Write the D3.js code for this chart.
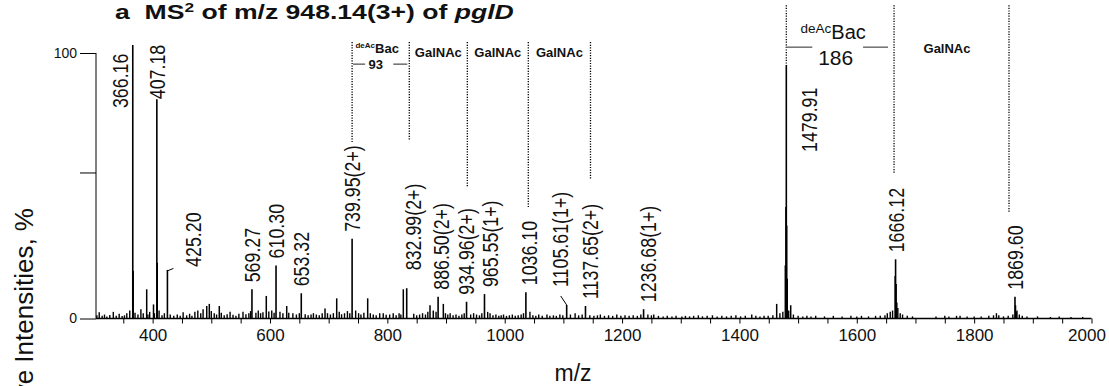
<!DOCTYPE html>
<html>
<head>
<meta charset="utf-8">
<script src="https://cdn.jsdelivr.net/npm/d3@7"></script>
<style>
  body { margin: 0; background: #fff; }
  svg { display: block; font-family: "Liberation Sans", Arial, Helvetica, sans-serif; }
</style>
</head>
<body>
<div id="chart"></div>
<script>
// labelled peaks (m/z, relative intensity %)
const peakMz = [366.16, 407.18, 425.20, 569.27, 610.30, 653.32, 739.95, 832.99, 886.50, 934.96,
  965.55, 1036.10, 1105.61, 1137.65, 1236.68, 1479.91, 1666.12, 1869.60];
const peakInt = [103, 82.6, 18.3, 11, 20, 9.5, 30, 11.4, 8.2, 6.3,
  9.2, 9.9, 5.1, 4.7, 3.5, 95.5, 22.3, 8.2];
const peakLabels = ["366.16", "407.18", "425.20", "569.27", "610.30", "653.32", "739.95(2+)",
  "832.99(2+)", "886.50(2+)", "934.96(2+)", "965.55(1+)", "1036.10", "1105.61(1+)",
  "1137.65(2+)", "1236.68(1+)", "1479.91", "1666.12", "1869.60"];

// other visible peaks, no label
const minorPeaks = [
  [366.9, 18], [389.9, 11], [401.5, 5.3], [407.9, 21], [492.2, 4.7], [496.6, 5.5], [513.6, 4.7],
  [593.7, 8.5], [628.5, 4.7], [693.8, 3.8], [713.7, 7.6], [766.5, 7.6], [827.2, 11],
  [872.7, 5], [878.3, 3], [895.4, 5.5], [1463.5, 5.5], [1478.2, 20], [1479.2, 42],
  [1480.6, 35], [1481.5, 15], [1487.4, 5], [1665.4, 16], [1667.1, 13], [1668.2, 6],
  [1870.5, 5], [1871.6, 2.5]
];

// baseline noise
const noisePeaks = [
  [305, 1.2], [309, 2.4], [314, 1.0], [318, 1.5], [322, 0.8], [327, 1.3], [333, 2.5], [338, 1.0],
  [343, 1.8], [348, 0.9], [352, 1.2], [356, 2.0], [361, 3.0], [370, 2.2], [375, 1.5], [380, 3.5],
  [384, 2.0], [392, 1.5], [395, 2.5], [403, 2.0], [411, 3.0], [416, 1.2], [420, 2.0], [430, 1.5],
  [436, 1.0], [442, 1.5], [447, 1.0], [452, 2.4], [458, 1.2], [463, 1.8], [467, 1.0], [472, 2.5],
  [477, 3.0], [482, 2.0], [486, 3.5], [500, 2.8], [505, 2.0], [509, 1.5], [517, 2.2], [522, 1.2],
  [527, 1.6], [532, 2.5], [537, 1.4], [542, 1.0], [547, 1.8], [554, 2.5], [559, 1.6], [564, 2.0],
  [567, 2.8], [576, 2.2], [580, 3.0], [584, 2.0], [588, 2.4], [598, 2.6], [603, 3.0], [607, 2.2],
  [617, 2.5], [622, 2.0], [632, 2.2], [639, 2.0], [645, 1.5], [650, 2.0], [660, 1.6], [665, 1.2],
  [670, 1.5], [674, 2.0], [679, 1.5], [684, 1.2], [689, 2.0], [698, 2.0], [703, 1.5], [708, 2.0],
  [718, 2.5], [722, 1.6], [727, 2.0], [732, 2.8], [736, 2.0], [746, 3.0], [751, 2.0], [755, 1.5],
  [760, 2.2], [771, 2.0], [776, 1.5], [781, 1.2], [787, 2.0], [793, 2.0], [798, 1.4], [804, 1.5],
  [810, 2.0], [815, 1.2], [820, 2.0], [823, 1.5], [845, 1.8], [850, 1.2], [855, 1.5], [860, 2.0],
  [865, 1.5], [869, 2.5], [883, 2.5], [899, 2.0], [903, 1.5], [907, 2.0], [912, 1.2], [917, 1.5],
  [922, 1.0], [927, 1.5], [931, 2.0], [942, 1.5], [947, 2.0], [952, 1.5], [957, 1.2], [961, 2.0],
  [971, 2.5], [975, 2.0], [980, 1.2], [985, 1.5], [990, 1.0], [994, 1.2], [998, 1.5], [1003, 1.0],
  [1008, 1.2], [1013, 1.5], [1018, 1.0], [1023, 1.2], [1028, 1.5], [1032, 2.0], [1043, 2.5],
  [1048, 1.2], [1053, 1.0], [1058, 1.5], [1064, 1.0], [1072, 1.5], [1077, 1.0], [1083, 1.2],
  [1088, 1.0], [1094, 1.5], [1099, 1.2], [1112, 1.5], [1120, 2.0], [1126, 1.2], [1132, 1.5],
  [1145, 1.2], [1152, 1.0], [1158, 1.2], [1163, 1.5], [1170, 1.0], [1177, 1.2], [1184, 1.0],
  [1191, 1.5], [1198, 1.0], [1205, 1.2], [1212, 1.0], [1219, 1.2], [1226, 1.0], [1232, 1.5],
  [1244, 1.5], [1250, 1.2], [1254, 1.5], [1262, 1.0], [1270, 0.8], [1277, 1.0], [1285, 0.8],
  [1292, 1.0], [1302, 0.8], [1308, 1.0], [1315, 0.8], [1322, 1.0], [1330, 1.2], [1337, 0.8],
  [1345, 1.0], [1354, 1.2], [1362, 0.8], [1370, 1.0], [1378, 0.8], [1386, 1.0], [1394, 1.2],
  [1402, 0.8], [1410, 1.0], [1421, 1.5], [1428, 1.0], [1435, 0.8], [1442, 1.0], [1449, 1.0],
  [1457, 1.2], [1469, 2.0], [1474, 2.5], [1484, 3.0], [1492, 1.5], [1500, 1.0], [1508, 0.8],
  [1515, 1.0], [1522, 0.8], [1530, 1.0], [1545, 0.8], [1560, 1.0], [1575, 0.8], [1590, 1.0],
  [1600, 0.8], [1608, 1.0], [1620, 0.8], [1632, 1.0], [1640, 1.0], [1648, 1.2], [1652, 2.0],
  [1657, 2.5], [1661, 3.0], [1670, 4.0], [1674, 2.0], [1678, 1.5], [1686, 1.0], [1695, 0.8],
  [1735, 0.8], [1750, 1.0], [1757, 0.8], [1770, 1.0], [1776, 1.0], [1788, 0.8], [1800, 0.8],
  [1812, 0.8], [1825, 1.0], [1833, 1.2], [1838, 2.0], [1842, 1.2], [1850, 0.8], [1858, 1.0],
  [1866, 1.5], [1873, 3.0], [1877, 1.5], [1882, 1.0], [1890, 0.8], [1908, 0.8], [1930, 0.6],
  [1945, 0.8], [1965, 0.6], [1985, 0.6]
];

// glycan ladders: dotted line m/z, where each line stops (intensity %), residue names
const ladderLeftMz = [739.95, 837.4, 936.3, 1040.2, 1146.2];
const ladderLeftEnd = [66.5, 67.2, 49.2, 42, 52.2];
const ladderLeftTop = 104.1;
const ladderLeftNames = ["Bac", "GalNAc", "GalNAc", "GalNAc"];
const ladderRightMz = [1479.91, 1663.5, 1859.4];
const ladderRightEnd = [95.5, 54.8, 39.9];
const ladderRightTop = 118;
const ladderRightNames = ["Bac", "GalNAc"];

const xTickLabels = [400, 600, 800, 1000, 1200, 1400, 1600, 1800, 2000];
const yTickValues = [0, 55, 100];
const yTickLabels = ["0", "", "100"];

const width = 1109, height = 386;

const svg = d3.select("#chart").append("svg")
  .attr("width", width)
  .attr("height", height);

const x = d3.scaleLinear().domain([303.5, 2000]).range([96, 1091.5]);
const y = d3.scaleLinear().domain([0, 100]).range([318.5, 53]);

// title
const title = svg.append("text")
  .attr("transform", "translate(115,18.5) scale(1.33,1)")
  .attr("font-size", 20)
  .attr("font-weight", "bold")
  .attr("fill", "#111");
title.append("tspan").text("a\u00a0\u00a0MS");
title.append("tspan").attr("font-size", 13).attr("dy", -7).text("2");
title.append("tspan").attr("dy", 7).text(" of m/z 948.14(3+) of ");
title.append("tspan").attr("font-style", "italic").text("pglD");

// axes
const xAxis = d3.axisBottom(x)
  .tickValues(d3.range(350, 2001, 50))
  .tickFormat(d => xTickLabels.includes(d) ? d : "")
  .tickSize(5)
  .tickPadding(5);

const gx = svg.append("g")
  .attr("transform", `translate(0,${y(0)})`)
  .call(xAxis);
gx.select(".domain").attr("stroke", "#000").attr("stroke-width", 1.7).attr("d", `M${x(303.5)},0H${x(2000)}`);
gx.selectAll(".tick line").attr("stroke", "#000").attr("stroke-width", 1);
gx.selectAll(".tick text")
  .attr("font-size", 17)
  .attr("font-family", "Liberation Sans, Arial, sans-serif")
  .attr("fill", "#111")
  .attr("dx", d => d === 2000 ? -5 : 0);

const yAxis = d3.axisLeft(y)
  .tickValues(yTickValues)
  .tickFormat((d, i) => yTickLabels[i])
  .tickSize(16)
  .tickPadding(3);

const gy = svg.append("g")
  .attr("transform", `translate(${x(303.5)},0)`)
  .call(yAxis);
gy.select(".domain").attr("stroke", "#000").attr("d", `M0,${y(100)}V${y(0)}`);
gy.selectAll(".tick line").attr("stroke", "#000");
gy.selectAll(".tick text")
  .attr("font-size", 14)
  .attr("font-family", "Liberation Sans, Arial, sans-serif")
  .attr("fill", "#111");

// axis titles
svg.append("text")
  .attr("x", 573)
  .attr("y", 381)
  .attr("text-anchor", "middle")
  .attr("font-size", 23)
  .attr("fill", "#111")
  .text("m/z");

svg.append("text")
  .attr("transform", "translate(33,208) rotate(-90)")
  .attr("text-anchor", "end")
  .attr("font-size", 26)
  .attr("fill", "#111")
  .text("Relative Intensities, %");

// spectrum
const spec = svg.append("g");

spec.selectAll("line.noise")
  .data(noisePeaks)
  .join("line")
  .attr("class", "noise")
  .attr("x1", d => x(d[0]))
  .attr("x2", d => x(d[0]))
  .attr("y1", y(0))
  .attr("y2", d => y(d[1]))
  .attr("stroke", "#000")
  .attr("stroke-width", 1.4);

spec.selectAll("line.minor")
  .data(minorPeaks)
  .join("line")
  .attr("class", "minor")
  .attr("x1", d => x(d[0]))
  .attr("x2", d => x(d[0]))
  .attr("y1", y(0))
  .attr("y2", d => y(d[1]))
  .attr("stroke", "#000")
  .attr("stroke-width", 1.5);

const peaks = peakMz.map((mz, i) => ({ mz, int: peakInt[i], label: peakLabels[i] }));

spec.selectAll("line.peak")
  .data(peaks)
  .join("line")
  .attr("class", "peak")
  .attr("x1", d => x(d.mz))
  .attr("x2", d => x(d.mz))
  .attr("y1", y(0))
  .attr("y2", d => y(d.int))
  .attr("stroke", "#000")
  .attr("stroke-width", 1.6);

// peak labels: default sits 7px above the peak top, a few are moved aside
const labelNudge = {
  "366.16": { dx: -13, dy: 70 },
  "407.18": { dx: 0, dy: 7 },
  "425.20": { dx: 25.5, dy: 4 },
  "832.99(2+)": { dx: 6, dy: -11 },
  "886.50(2+)": { dx: 3, dy: 0 },
  "965.55(1+)": { dx: 5.5, dy: 0 },
  "1036.10": { dx: 3, dy: 0 },
  "1105.61(1+)": { dx: -6.7, dy: -11 },
  "1137.65(2+)": { dx: 4.5, dy: 0 },
  "1236.68(1+)": { dx: 4.4, dy: 0 },
  "1479.91": { dx: 22.7, dy: 94 }
};
const labelSize = 22;
const labelHalf = labelSize * 0.36;

spec.selectAll("text.plabel")
  .data(peaks)
  .join("text")
  .attr("class", "plabel")
  .attr("font-size", labelSize)
  .attr("fill", "#111")
  .attr("transform", d => {
    const n = labelNudge[d.label] || { dx: 0, dy: 0 };
    const lx = x(d.mz) + n.dx + labelHalf;
    const ly = y(d.int) - 7 + n.dy;
    return `translate(${lx},${ly}) rotate(-90) scale(0.81,1)`;
  })
  .text(d => d.label);

// small leader lines
const p425 = peaks.find(d => d.label === "425.20");
spec.append("path")
  .attr("d", `M${x(p425.mz)},${y(p425.int) + 1}L${x(p425.mz) + 6},${y(p425.int) - 1.5}`)
  .attr("stroke", "#000").attr("fill", "none").attr("stroke-width", 1);
const p1105 = peaks.find(d => d.label === "1105.61(1+)");
spec.append("path")
  .attr("d", `M${x(p1105.mz)},${y(p1105.int)}L${x(p1105.mz) - 6},${y(p1105.int) - 9}`)
  .attr("stroke", "#000").attr("fill", "none").attr("stroke-width", 1);

// glycan ladders
const ann = svg.append("g");

function dotted(mzs, ends, top) {
  ann.selectAll(null)
    .data(mzs)
    .join("line")
    .attr("x1", d => x(d))
    .attr("x2", d => x(d))
    .attr("y1", y(top))
    .attr("y2", (d, i) => y(ends[i]))
    .attr("stroke", "#000")
    .attr("stroke-width", 1.3)
    .attr("stroke-dasharray", "1.2,1.4");
}
dotted(ladderLeftMz, ladderLeftEnd, ladderLeftTop);
dotted(ladderRightMz, ladderRightEnd, ladderRightTop);

// left ladder names
const lTop = y(ladderLeftTop);
ladderLeftNames.forEach((name, i) => {
  const x1 = x(ladderLeftMz[i]), x2 = x(ladderLeftMz[i + 1]);
  const mid = (x1 + x2) / 2;
  if (name === "Bac") {
    const t = ann.append("text")
      .attr("x", mid - 3.5).attr("y", lTop + 11)
      .attr("text-anchor", "middle")
      .attr("font-weight", "bold").attr("font-size", 13).attr("fill", "#111");
    t.append("tspan").attr("font-size", 8).attr("dy", -5).text("deAc");
    t.append("tspan").attr("dy", 5).text("Bac");
    ann.append("text")
      .attr("x", mid - 5).attr("y", lTop + 26.5)
      .attr("text-anchor", "middle")
      .attr("font-weight", "bold").attr("font-size", 13).attr("fill", "#111")
      .text("93");
    ann.append("line").attr("x1", x1 + 1).attr("x2", x1 + 13)
      .attr("y1", lTop + 22).attr("y2", lTop + 22).attr("stroke", "#222");
    ann.append("line").attr("x1", x2 - 16).attr("x2", x2 - 2)
      .attr("y1", lTop + 22).attr("y2", lTop + 22).attr("stroke", "#222");
  } else {
    ann.append("text")
      .attr("x", mid).attr("y", lTop + 14.5)
      .attr("text-anchor", "middle")
      .attr("font-weight", "bold").attr("font-size", 13).attr("fill", "#111")
      .text(name);
  }
});

// right ladder names
const rTop = y(ladderRightTop);
ladderRightNames.forEach((name, i) => {
  const x1 = x(ladderRightMz[i]), x2 = x(ladderRightMz[i + 1]);
  const mid = (x1 + x2) / 2;
  if (name === "Bac") {
    const t = ann.append("text")
      .attr("x", mid - 7).attr("y", rTop + 34)
      .attr("text-anchor", "middle")
      .attr("font-size", 20).attr("fill", "#111");
    t.append("tspan").attr("font-size", 13.5).attr("dy", -6).text("deAc");
    t.append("tspan").attr("dy", 6).text("Bac");
    ann.append("text")
      .attr("x", mid - 4.5).attr("y", rTop + 60)
      .attr("text-anchor", "middle")
      .attr("font-size", 21).attr("fill", "#111")
      .text("186");
    ann.append("line").attr("x1", x1).attr("x2", x1 + 26)
      .attr("y1", rTop + 42).attr("y2", rTop + 42)
      .attr("stroke", "#777").attr("stroke-width", 1.6);
    ann.append("line").attr("x1", x2 - 31).attr("x2", x2 - 6)
      .attr("y1", rTop + 42).attr("y2", rTop + 42)
      .attr("stroke", "#777").attr("stroke-width", 1.6);
  } else {
    ann.append("text")
      .attr("x", mid - 4.5).attr("y", rTop + 47.5)
      .attr("text-anchor", "middle")
      .attr("font-weight", "bold").attr("font-size", 13).attr("fill", "#111")
      .text(name);
  }
});
</script>
</body>
</html>
